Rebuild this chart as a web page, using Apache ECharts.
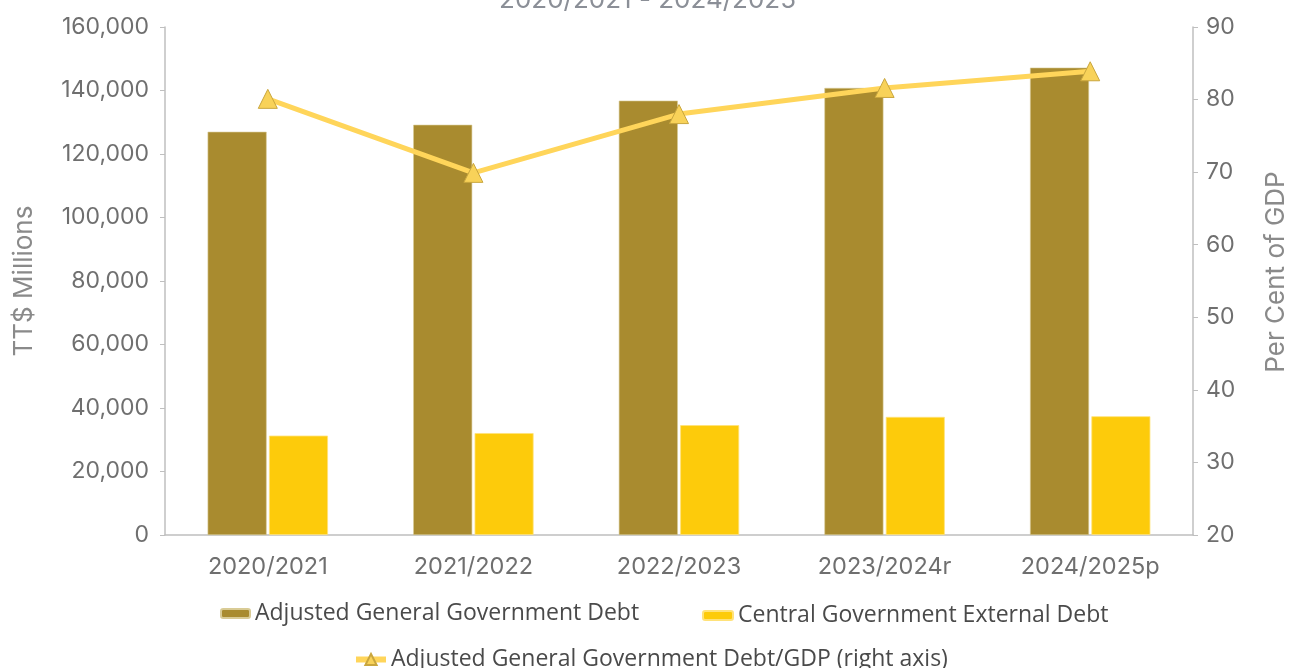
<!DOCTYPE html>
<html>
<head>
<meta charset="utf-8">
<title>Government Debt 2020/2021 - 2024/2025</title>
<script src="https://cdn.jsdelivr.net/npm/echarts@6/dist/echarts.min.js"></script>
<style>
  html, body { margin: 0; padding: 0; background: #ffffff; }
  #chart { width: 1295px; height: 668px; }
</style>
</head>
<body>
<div id="chart"></div>
<script>
// Fiscal years shown on the category axis
const years = ['2020/2021', '2021/2022', '2022/2023', '2023/2024r', '2024/2025p'];

// TT$ millions
const adjustedGeneralDebt = [127000, 129200, 136800, 140800, 147200];
const centralExternalDebt = [31300, 32100, 34600, 37200, 37400];

// Per cent of GDP (right axis)
const debtToGdp = [80.1, 69.9, 78.0, 81.6, 83.9];

const seriesNames = [
  'Adjusted General Government Debt',
  'Central Government External Debt',
  'Adjusted General Government Debt/GDP (right axis)'
];

const axisFont = 'Inter, "Liberation Sans", Arial, sans-serif';
const legendFont = '"Open Sans", "Noto Sans", sans-serif';
const axisGrey = '#bfbfbf';
const labelGrey = '#6f6f6f';

const chart = echarts.init(document.getElementById('chart'), null, { renderer: 'canvas' });

const legendText = { fontFamily: legendFont, fontSize: 23, color: '#4a4a4a' };

chart.setOption({
  animation: false,
  backgroundColor: '#ffffff',
  title: {
    text: '2020/2021 - 2024/2025',
    left: 'center',
    top: -18,
    textStyle: { fontFamily: axisFont, fontSize: 26, fontWeight: 'normal', color: '#8b8f97' }
  },
  grid: { left: 165, right: 102, top: 27, bottom: 133, containLabel: false, outerBoundsMode: 'none' },
  legend: [
    {
      data: [seriesNames[0]], left: 220, top: 602, padding: 0,
      itemWidth: 29, itemHeight: 9, itemGap: 0, textStyle: legendText
    },
    {
      data: [seriesNames[1]], left: 702, top: 604, padding: 0,
      itemWidth: 30, itemHeight: 9, itemGap: 0, textStyle: legendText
    },
    {
      data: [seriesNames[2]], left: 353, top: 648, padding: 0,
      itemWidth: 30, itemHeight: 14, itemGap: 0, textStyle: legendText,
      lineStyle: { width: 6 }
    }
  ],
  xAxis: {
    type: 'category',
    data: years,
    axisLine: { show: true, lineStyle: { color: axisGrey, width: 1.5 } },
    axisTick: { show: false },
    axisLabel: { fontFamily: axisFont, fontSize: 23.5, color: labelGrey, margin: 20 }
  },
  yAxis: [
    {
      type: 'value',
      min: 0, max: 160000, interval: 20000,
      name: 'TT$ Millions',
      nameLocation: 'middle',
      nameRotate: 90,
      nameGap: 128,
      nameTextStyle: { fontFamily: axisFont, fontSize: 26, color: '#8a8a8a' },
      axisLine: { show: true, lineStyle: { color: axisGrey, width: 1.5 } },
      axisTick: { show: true, length: 5, lineStyle: { color: axisGrey } },
      splitLine: { show: false },
      axisLabel: {
        fontFamily: axisFont, fontSize: 23, color: labelGrey, margin: 16,
        formatter: v => v.toLocaleString('en-US')
      }
    },
    {
      type: 'value',
      min: 20, max: 90, interval: 10,
      name: 'Per Cent of GDP',
      nameLocation: 'middle',
      nameRotate: 90,
      nameGap: 70,
      nameTextStyle: { fontFamily: axisFont, fontSize: 26, color: '#8a8a8a', padding: [0, 0, 0, 18] },
      axisLine: { show: true, lineStyle: { color: axisGrey, width: 1.5 } },
      axisTick: { show: true, length: 5, lineStyle: { color: axisGrey } },
      splitLine: { show: false },
      axisLabel: { fontFamily: axisFont, fontSize: 23, color: labelGrey, margin: 13 }
    }
  ],
  series: [
    {
      name: seriesNames[0],
      type: 'bar',
      data: adjustedGeneralDebt,
      barWidth: 59,
      barGap: '4%',
      itemStyle: { color: '#a98b2f', borderColor: '#d9cb95', borderWidth: 0.6 }
    },
    {
      name: seriesNames[1],
      type: 'bar',
      data: centralExternalDebt,
      barWidth: 59,
      barGap: '4%',
      itemStyle: { color: '#fdcb0b', borderColor: '#ffe27a', borderWidth: 0.8 }
    },
    {
      name: seriesNames[2],
      type: 'line',
      yAxisIndex: 1,
      data: debtToGdp,
      z: 5,
      symbol: 'triangle',
      symbolSize: 19,
      lineStyle: { color: '#ffd55a', width: 5 },
      itemStyle: { color: '#f8d259', borderColor: '#c9a63e', borderWidth: 1 }
    }
  ]
});
</script>
</body>
</html>
